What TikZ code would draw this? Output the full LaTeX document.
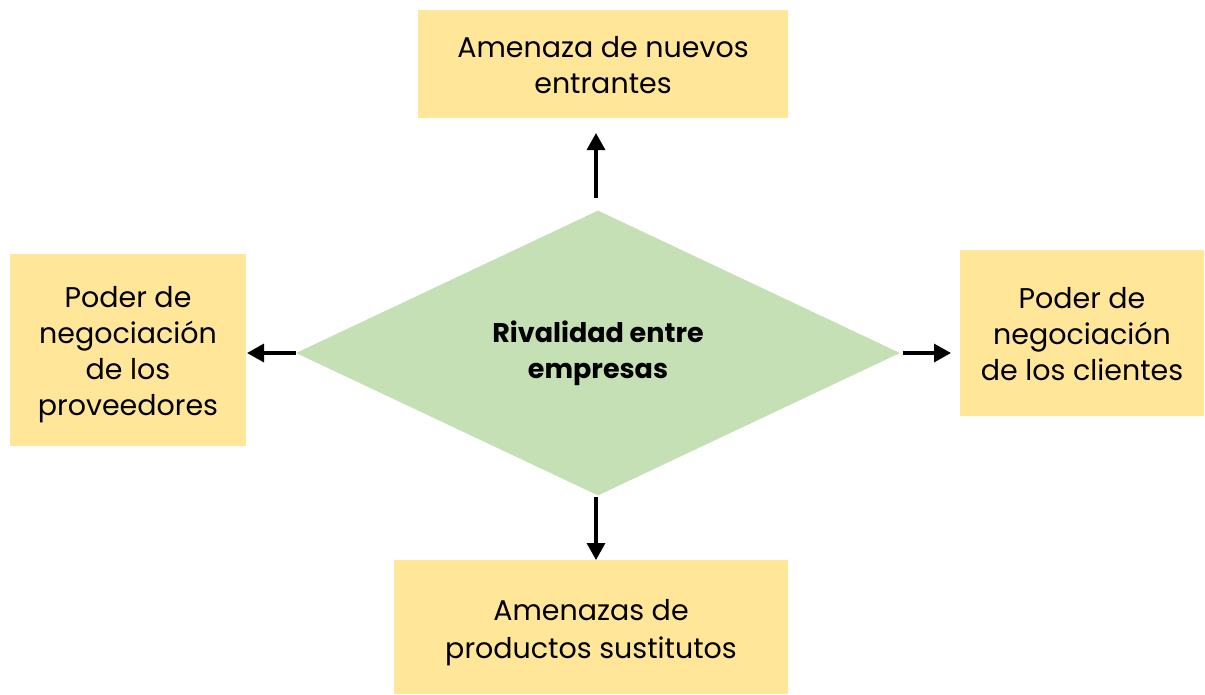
\documentclass[tikz,border=0pt]{standalone}
\usepackage{fontspec}
\setmainfont{Poppins}
\usetikzlibrary{shapes.geometric,arrows.meta}
\begin{document}
\begin{tikzpicture}[x=1pt,y=-1pt,
  forcebox/.style={fill=boxyellow,draw=none,inner sep=0pt},
  forcetext/.style={align=center,inner sep=0pt,font=\fontsize{28.5}{36}\selectfont},
  arr/.style={line width=3.2pt,-{Triangle[length=17pt,width=18pt]}}]
\definecolor{boxyellow}{HTML}{FFE699}
\definecolor{diagreen}{HTML}{C5E0B4}
\useasboundingbox (0,0) rectangle (1205,694);
\node[forcebox,minimum width=370pt,minimum height=108pt] (topbox) at (603,64) {};
\node[forcetext] (top) at (603,65) {Amenaza de nuevos\\entrantes};
\node[forcebox,minimum width=236pt,minimum height=192pt] (leftbox) at (128,350) {};
\node[forcetext] (left) at (128,355) {Poder de\\negociación\\de los\\proveedores};
\node[forcebox,minimum width=244pt,minimum height=166pt] (rightbox) at (1082,333) {};
\node[forcetext] (right) at (1082,334) {Poder de\\negociación\\de los clientes};
\node[forcebox,minimum width=394pt,minimum height=134pt] (bottombox) at (591,627) {};
\node[forcetext,font=\fontsize{28.5}{38}\selectfont] (bottom) at (591,633) {Amenazas de\\productos sustitutos};
\node[diamond,fill=diagreen,draw=none,minimum width=604pt,minimum height=285pt,inner sep=0pt,align=center,font=\bfseries\fontsize{27}{36}\selectfont] (rival) at (598,353) {Rivalidad entre\\empresas};
\coordinate (ts) at (596,198);
\coordinate (te) at (596,133);
\coordinate (bs) at (596,497);
\coordinate (be) at (596,560);
\coordinate (ls) at (296,353);
\coordinate (le) at (247,353);
\coordinate (rs) at (903,353);
\coordinate (re) at (951,353);
\draw[arr] (ts) -- (te);
\draw[arr] (bs) -- (be);
\draw[arr] (ls) -- (le);
\draw[arr] (rs) -- (re);
\end{tikzpicture}
\end{document}
